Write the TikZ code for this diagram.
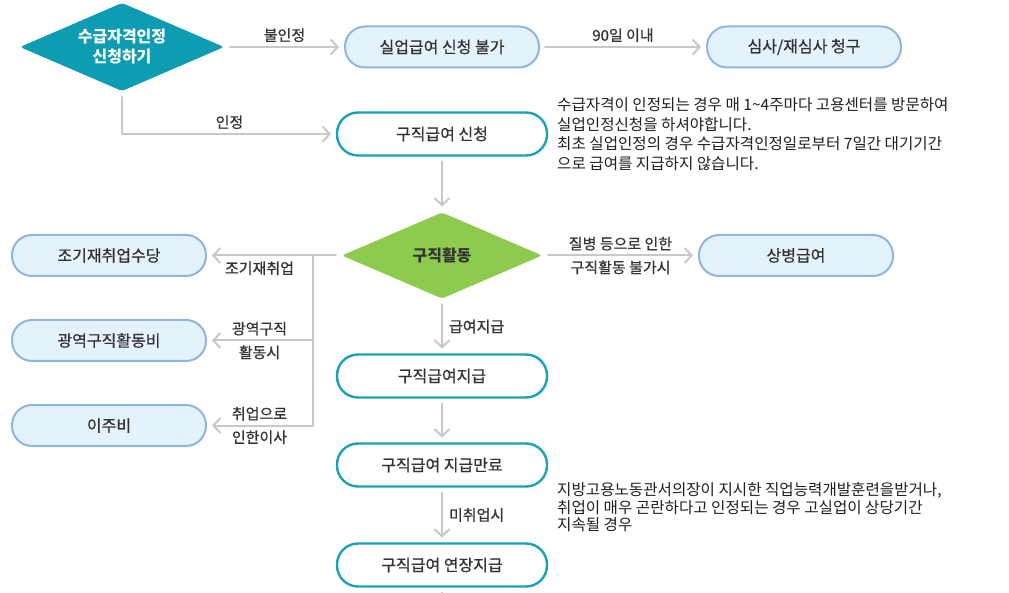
\documentclass[tikz,border=0pt]{standalone}
\usepackage{fontspec}
\setmainfont{Noto Sans CJK KR}
\newfontface\krmid{Noto Sans CJK KR}[FakeBold=0.7]
\usetikzlibrary{arrows.meta,positioning,shapes.geometric}
\definecolor{tealdark}{HTML}{0E9CB2}
\definecolor{tealline}{HTML}{1AA2B6}
\definecolor{leafgreen}{HTML}{8DCB4E}
\definecolor{softblue}{HTML}{E4F2FB}
\definecolor{paleblue}{HTML}{8FB6DE}
\definecolor{linegray}{HTML}{C8C8C8}
\definecolor{ink}{HTML}{333333}
\tikzset{
    every picture/.style={line cap=round,line join=round},
    decision/.style={diamond,aspect=2.3,inner sep=0pt,outer sep=0pt,
      rounded corners=3pt,text=white,align=center,
      font=\fontsize{16}{20}\selectfont\bfseries},
    tealbox/.style={draw=tealline,fill=white,line width=2.4pt,rounded corners=21pt,
      minimum width=210pt,minimum height=43pt,inner sep=0pt,outer sep=0pt,
      text=ink,font=\krmid\fontsize{16}{19}\selectfont},
    softbox/.style={draw=paleblue,fill=softblue,line width=2pt,rounded corners=20pt,
      minimum width=194pt,minimum height=41pt,inner sep=0pt,outer sep=0pt,
      text=ink,font=\krmid\fontsize{16}{19}\selectfont},
    flowline/.style={draw=linegray,line width=2pt,shorten <=6pt},
    flowarrow/.style={flowline,-{Straight Barb[length=7pt,width=15pt]},shorten >=6pt},
    edgelabel/.style={text=ink,inner sep=1pt,font=\krmid\fontsize{15}{18}\selectfont},
    notetext/.style={text=black!88,inner sep=0pt,align=left,
      font=\fontsize{15.6}{19.5}\selectfont}
}
\begin{document}
\begin{tikzpicture}[x=1pt,y=-1pt]
    \useasboundingbox (0,0) rectangle (1009,593);
    \node[decision,fill=tealdark,minimum width=204pt,minimum height=88pt] (entry) at (122,47)
      {수급자격인정\\신청하기};
    \node[softbox,right=121pt of entry] (deny) {실업급여 신청 불가};
    \node[softbox,right=168pt of deny] (appeal) {심사/재심사 청구};
    \node[tealbox,below=45pt of deny] (claim) {구직급여 신청};
    \node[decision,fill=leafgreen,text=ink,below=57pt of claim,
      minimum width=200pt,minimum height=86pt] (search) {구직활동};
    \node[softbox,right=157pt of search] (sick) {상병급여};
    \node[softbox,left=136pt of search] (early) {조기재취업수당};
    \node[softbox,below=44pt of early] (wide) {광역구직활동비};
    \node[softbox,below=44pt of wide] (move) {이주비};
    \node[tealbox,below=56pt of search] (pay) {구직급여지급};
    \node[tealbox,below=46pt of pay] (expire) {구직급여 지급만료};
    \node[tealbox,below=57pt of expire] (extend) {구직급여 연장지급};
    % notes
    \node[notetext,right=10pt of claim] (note1)
      {수급자격이 인정되는 경우 매 1\textasciitilde4주마다 고용센터를 방문하여\\
       실업인정신청을 하셔야합니다.\\
       최초 실업인정의 경우 수급자격인정일로부터 7일간 대기기간\\
       으로 급여를 지급하지 않습니다.};
    \node[notetext,anchor=north west,font=\fontsize{15.6}{17.8}\selectfont] (note2) at (557,482)
      {지방고용노동관서의장이 지시한 직업능력개발훈련을받거나,\\
       취업이 매우 곤란하다고 인정되는 경우 고실업이 상당기간\\
       지속될 경우};
    % connectors
    \draw[flowarrow] (entry) -- node[edgelabel,above=3pt]{불인정} (deny);
    \draw[flowarrow] (deny) -- node[edgelabel,above=3pt]{90일 이내} (appeal);
    \draw[flowarrow] (entry) |- node[edgelabel,pos=0.75,above=3pt]{인정} (claim);
    \draw[flowarrow] (claim) -- (search);
    \draw[flowarrow] (search) -- node[edgelabel,above=3pt]{질병 등으로 인한}
      node[edgelabel,below=3pt]{구직활동 불가시} (sick);
    \coordinate (fork) at ([xshift=-29pt]search.west);
    \draw[flowarrow] (search.west) -- (fork) -- node[edgelabel,below=4pt]{조기재취업} (early);
    \draw[flowarrow,shorten <=0pt] (fork) |- node[edgelabel,pos=0.75,above=3pt]{광역구직}
      node[edgelabel,pos=0.75,below=3pt]{활동시} (wide);
    \draw[flowarrow,shorten <=0pt] (fork) |- node[edgelabel,pos=0.75,above=3pt]{취업으로}
      node[edgelabel,pos=0.75,below=3pt]{인한이사} (move);
    \draw[flowarrow] (search) -- node[edgelabel,right=5pt]{급여지급} (pay);
    \draw[flowarrow] (pay) -- (expire);
    \draw[flowarrow] (expire) -- node[edgelabel,right=5pt]{미취업시} (extend);
    \coordinate (beyond) at ([yshift=-14pt]extend.south);
    \draw[flowline] (extend) -- (beyond);
\end{tikzpicture}
\end{document}
